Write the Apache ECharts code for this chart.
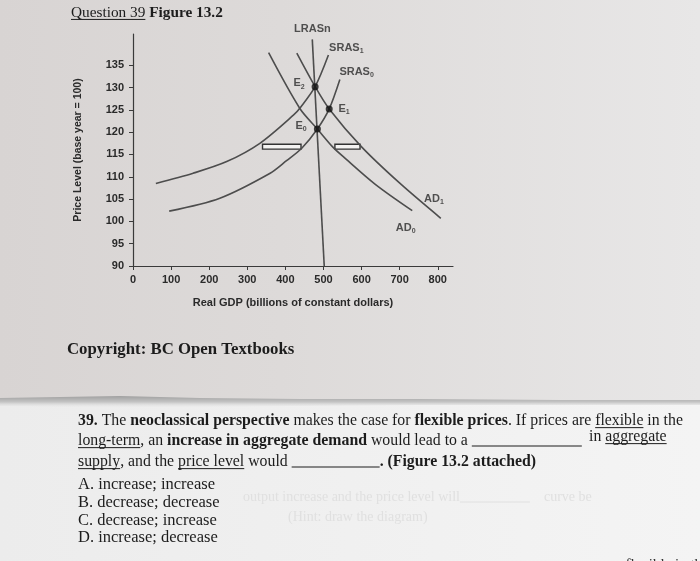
<!DOCTYPE html>
<html><head><meta charset="utf-8">
<script src="https://cdn.jsdelivr.net/npm/echarts@6/dist/echarts.min.js"></script>
<style>html,body{margin:0;padding:0;background:#e4e2e1}#c{width:700px;height:561px}</style>
</head><body><div id="c"></div>
<script>
// ---- data ----
const xTicks=[0,100,200,300,400,500,600,700,800];
const yTicks=[90,95,100,105,110,115,120,125,130,135];
const lrasPts=[[470.6,140.8],[502,90]];
const sras1Pts=[[60,108.5],[158,110.8],[246,113.4],[333,117.5],[421,123.8],[440,125.6],[478,130.2],[513,137.3]];
const sras0Pts=[[95,102.3],[228,105.2],[360,110.8],[403,113.6],[443,116.4],[484,120.7],[515,125.2],[543,131.8]];
const ad0Pts=[[356,137.8],[438,125.3],[484,120.7],[524,116.7],[552,114.5],[636,108.3],[733,102.4]];
const ad1Pts=[[430,137.7],[478,130.2],[515,125.2],[600,116.7],[701,108.5],[808,100.7]];
const eqPts=[[484,120.7],[515,125.2],[478,130.2]];
const labelMain=['LRASn','SRAS','SRAS','E','E','E','AD','AD'];
const labelSub=['','1','0','2','1','0','1','0'];
const labelPts=[[471,143.1],[560,138.9],[587,133.6],[436,131],[554,125.3],[441,121.4],[790,105.1],[716,98.6]];
const gapRects=[[[340,117.3],[441,116.2]],[[530,117.3],[596,116.2]]];

// ---- text layout helper ----
const ctx=document.createElement('canvas').getContext('2d');
const INK='#1c1c1c';
function layout(x0,y,size,segs,color){
  let x=x0;const out=[];color=color||INK;
  for(const s of segs){
    if(s.blank){out.push({type:'line',z:5,shape:{x1:x,y1:y+5,x2:x+s.blank,y2:y+5},style:{stroke:color,lineWidth:1}});x+=s.blank;continue;}
    const font=(s.b?'bold ':'')+size+'px "Liberation Serif"';
    ctx.font=font;const w=ctx.measureText(s.t).width;
    out.push({type:'text',z:5,x:x,y:y,style:{text:s.t,font:font,fill:color,verticalAlign:'middle',align:'left'}});
    if(s.u){out.push({type:'line',z:5,shape:{x1:x,y1:y+size*0.42,x2:x+w,y2:y+size*0.42},style:{stroke:color,lineWidth:1}});}
    x+=w;
  }
  return out;
}
const g=[];
// backgrounds
g.push({type:'rect',z:-10,shape:{x:0,y:0,width:700,height:401},style:{fill:new echarts.graphic.LinearGradient(0,0,1,0,[{offset:0,color:'#d8d4d3'},{offset:0.4,color:'#dddad9'},{offset:1,color:'#e8e7e7'}])}});
g.push({type:'rect',z:-10,shape:{x:0,y:401,width:700,height:160},style:{fill:new echarts.graphic.LinearGradient(0,0,1,0,[{offset:0,color:'#ececec'},{offset:1,color:'#f4f4f4'}])}});
g.push({type:'polygon',z:-9,shape:{points:[[0,398],[60,397],[120,396],[200,398],[300,399],[420,399],[560,400],[700,400],[700,405],[560,405],[420,405],[300,406],[200,407],[120,408],[60,407],[0,406]]},
  style:{fill:new echarts.graphic.LinearGradient(0,0,0,1,[{offset:0,color:'#a0a0a0'},{offset:0.5,color:'#c4c4c4'},{offset:1,color:'rgba(236,236,236,0)'}])}});
// title
g.push(...layout(71,13,15.3,[{t:'Question 39',u:true},{t:' '},{t:'Figure 13.2',b:true}]));
// copyright
g.push(...layout(67,350,16.8,[{t:'Copyright: BC Open Textbooks',b:true}]));
// question
g.push(...layout(78,421,15.8,[{t:'39.',b:true},{t:' The '},{t:'neoclassical perspective',b:true},{t:' makes the case for '},{t:'flexible prices',b:true},{t:'. If prices are '},{t:'flexible',u:true},{t:' in the'}]));
g.push(...layout(78,441,15.8,[{t:'long-term',u:true},{t:', an '},{t:'increase in aggregate demand',b:true},{t:' would lead to a '},{blank:110}]));
g.push(...layout(589,437,15.8,[{t:'in '},{t:'aggregate',u:true}]));
g.push(...layout(78,462,15.8,[{t:'supply',u:true},{t:', and the '},{t:'price level',u:true},{t:' would '},{blank:88},{t:'. (Figure 13.2 attached)',b:true}]));
g.push(...layout(78,485,16.5,[{t:'A. increase; increase'}]));
g.push(...layout(78,503,16.5,[{t:'B. decrease; decrease'}]));
g.push(...layout(78,521,16.5,[{t:'C. decrease; increase'}]));
g.push(...layout(78,538,16.5,[{t:'D. increase; decrease'}]));
// faint show-through text
g.push(...layout(243,497,14,[{t:'output increase and the price level will'},{blank:70},{t:'    curve be'}],'#e0e0e0'));
g.push(...layout(288,517,14,[{t:'(Hint: draw the diagram)'}],'#e0e0e0'));
g.push(...layout(600,565,15,[{t:'a     flexible in the'}],'#333'));

const chart=echarts.init(document.getElementById('c'),null,{renderer:'canvas'});
const curve=(name,pts,smooth)=>({type:'line',name:name,data:pts,showSymbol:false,smooth:smooth,silent:true,z:2,
  lineStyle:{color:'#4d4d4d',width:1.6},animation:false});
const sans='"Liberation Sans", Arial, sans-serif';
chart.setOption({
  animation:false,
  backgroundColor:'transparent',
  grid:{left:133,top:34,width:320,height:232},
  xAxis:{type:'value',min:0,max:840,interval:100,
    name:'Real GDP (billions of constant dollars)',nameLocation:'middle',nameGap:31,
    nameTextStyle:{fontFamily:sans,fontWeight:'bold',fontSize:11,color:'#2a2a2a'},
    axisLine:{lineStyle:{color:'#3a3a3a',width:1.2}},
    axisTick:{customValues:xTicks,length:4,lineStyle:{color:'#3a3a3a'}},
    axisLabel:{customValues:xTicks,margin:8,fontFamily:sans,fontWeight:'bold',fontSize:11,color:'#2a2a2a'},
    splitLine:{show:false}},
  yAxis:{type:'value',min:90,max:142,interval:5,
    name:'Price Level (base year = 100)',nameLocation:'middle',nameGap:49,nameRotate:90,
    nameTextStyle:{fontFamily:sans,fontWeight:'bold',fontSize:10.5,color:'#2a2a2a'},
    axisLine:{show:true,lineStyle:{color:'#3a3a3a',width:1.2}},
    axisTick:{show:true,customValues:yTicks,length:4,lineStyle:{color:'#3a3a3a'}},
    axisLabel:{customValues:yTicks,margin:9,fontFamily:sans,fontWeight:'bold',fontSize:11,color:'#2a2a2a'},
    splitLine:{show:false}},
  graphic:g,
  series:[
    curve('LRASn',lrasPts,false),
    curve('SRAS1',sras1Pts,0.3),
    curve('SRAS0',sras0Pts,0.3),
    curve('AD0',ad0Pts,0.3),
    Object.assign(curve('AD1',ad1Pts,0.3),{markArea:{silent:true,
      itemStyle:{color:'#f3f2f1',borderColor:'#333',borderWidth:1.4},
      data:gapRects.map(r=>[{coord:r[0]},{coord:r[1]}])}}),
    {type:'scatter',name:'equilibria',data:eqPts,symbolSize:7,itemStyle:{color:'#111'},z:4,silent:true},
    {type:'scatter',name:'labels',clip:false,symbolSize:1,itemStyle:{color:'rgba(0,0,0,0)'},z:4,silent:true,
      data:labelPts.map((p,i)=>({value:p,main:labelMain[i],sub:labelSub[i]})),
      label:{show:true,position:'inside',
        formatter:(p)=>'{m|'+labelMain[p.dataIndex]+'}'+(labelSub[p.dataIndex]?'{s|'+labelSub[p.dataIndex]+'}':''),
        rich:{m:{fontFamily:sans,fontWeight:'bold',fontSize:11,color:'#2a2a2a',lineHeight:14},
              s:{fontFamily:sans,fontWeight:'bold',fontSize:7,color:'#2a2a2a',padding:[7,0,0,0],lineHeight:8}}}}
  ]
});
</script></body></html>
